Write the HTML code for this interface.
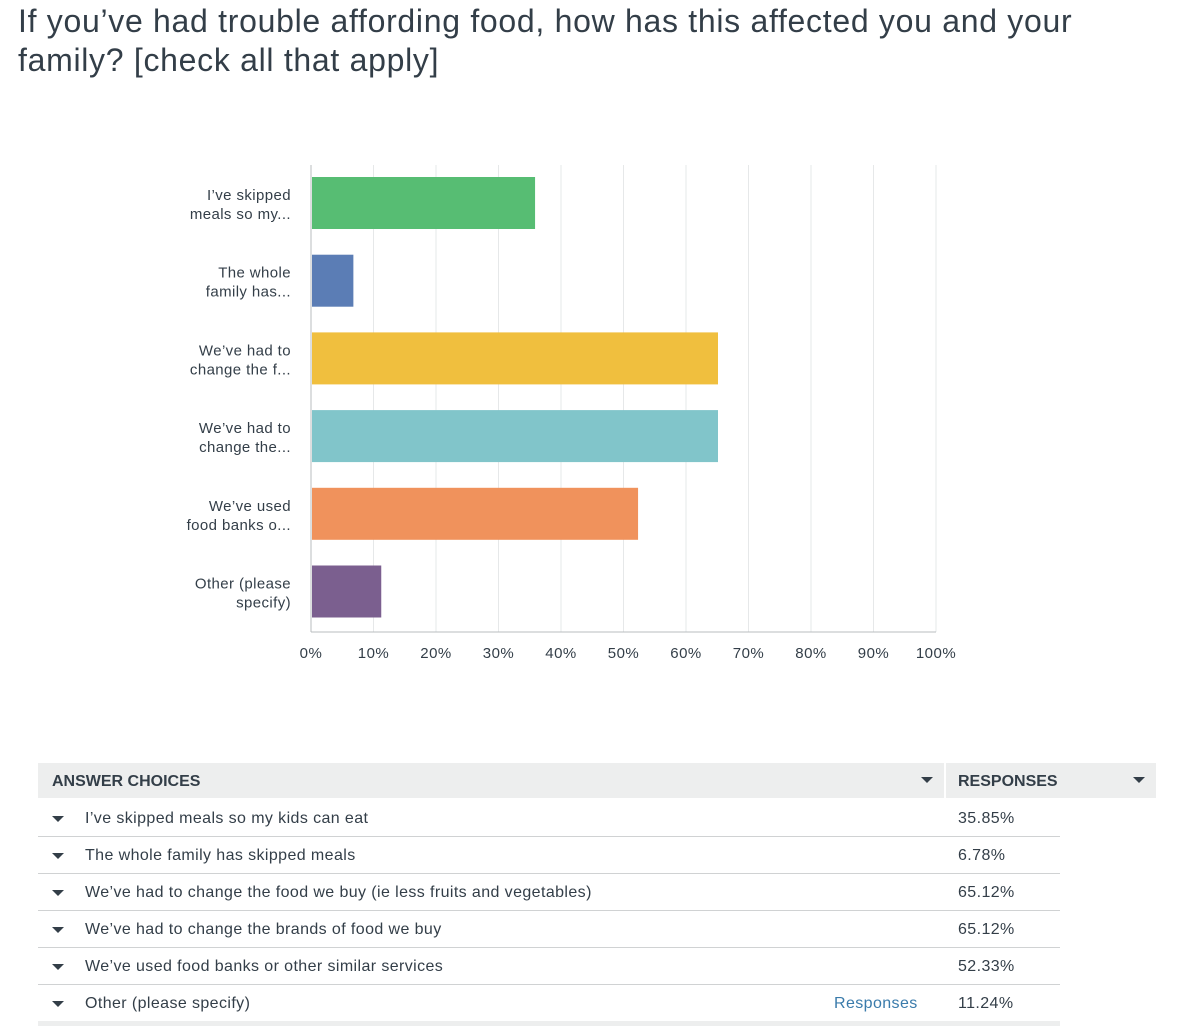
<!DOCTYPE html>
<html><head><meta charset="utf-8">
<style>
body{margin:0;width:1190px;height:1026px;overflow:hidden;background:#fff;font-family:"Liberation Sans",sans-serif;color:#333e48;position:relative}
#title{position:absolute;left:18px;top:2px;font-size:32px;line-height:39px;color:#333e48;margin:0;font-weight:normal;width:1100px;letter-spacing:0.7px}
svg{position:absolute;left:0;top:0}
.hdr{position:absolute;top:763px;height:35px;background:#edeeee;font-weight:bold;font-size:16px;line-height:37px}
.row{position:absolute;left:38px;width:1022px;height:37px;border-bottom:1px solid #d0d2d3;font-size:16px;line-height:39px;letter-spacing:0.4px}
.tri{position:absolute;width:0;height:0;border-left:6px solid transparent;border-right:6px solid transparent;border-top:6px solid #333e48}
</style></head><body>
<h1 id="title">If you’ve had trouble affording food, how has this affected you and your family? [check all that apply]</h1>
<svg id="chart" width="1190" height="720"></svg>

<div class="hdr" style="left:38px;width:906px"><span style="margin-left:14px">ANSWER CHOICES</span><div class="tri" style="left:883px;top:14px"></div></div>
<div class="hdr" style="left:946px;width:210px"><span style="margin-left:12px">RESPONSES</span><div class="tri" style="left:187px;top:14px"></div></div>
<div id="rows"></div>
<div style="position:absolute;left:38px;top:1021px;width:1022px;height:5px;background:#edeeee"></div>

<script>
const categories=["I’ve skipped meals so my kids can eat","The whole family has skipped meals","We’ve had to change the food we buy (ie less fruits and vegetables)","We’ve had to change the brands of food we buy","We’ve used food banks or other similar services","Other (please specify)"];
const shortLabels=[["I’ve skipped","meals so my..."],["The whole","family has..."],["We’ve had to","change the f..."],["We’ve had to","change the..."],["We’ve used","food banks o..."],["Other (please","specify)"]];
const values=[35.85,6.78,65.12,65.12,52.33,11.24];
const ticks=[0,10,20,30,40,50,60,70,80,90,100];
const colors=["#57bd73","#5b7db5","#f0bf3e","#81c5ca","#f0925c","#7b5f8f"];
const NS="http://www.w3.org/2000/svg";
const svg=document.getElementById('chart');
const X0=311,X1=936,TOP=165,BOT=632,BAND=77.7,BH=52;
const x=v=>X0+(X1-X0)*v/100;
const yb=i=>177+i*BAND;
function mk(t,a){const e=document.createElementNS(NS,t);for(const k in a)e.setAttribute(k,a[k]);svg.appendChild(e);return e;}
ticks.forEach((t,i)=>{
  const g=mk('line',{x1:x(t),x2:x(t),y1:TOP,y2:BOT,stroke:t===0?'#b8bcbf':'#e6e8e9','stroke-width':1});
  
  
  const l=mk('text',{x:x(t),y:658,'text-anchor':'middle','font-size':15,fill:'#333e48','font-family':'Liberation Sans','letter-spacing':0.5});
  l.textContent=t+'%';
  
  
});
mk('line',{x1:X0,x2:X1,y1:BOT,y2:BOT,stroke:'#b8bcbf'});
values.forEach((v,i)=>{
  const r=mk('rect',{x:X0+1,y:yb(i),width:x(v)-X0-1,height:BH,fill:colors[i]});
  
  
  shortLabels[i].forEach((s,j)=>{
    const t=mk('text',{x:291,y:yb(i)+23+j*19,'text-anchor':'end','font-size':15,fill:'#333e48','font-family':'Liberation Sans','letter-spacing':0.4});
    t.textContent=s;
    
    
  });
});
const rows=document.getElementById('rows');
categories.forEach((c,i)=>{
  const d=document.createElement('div');
  d.className='row';d.style.top=(799+i*37)+'px';
  
  
  d.innerHTML='<div class="tri" style="left:14px;top:17px"></div><span style="position:absolute;left:47px">'+c+'</span>'+
   (i===5?'<span style="position:absolute;left:796px;color:#3a7bab">Responses</span>':'')+
   '<span style="position:absolute;left:920px">'+values[i].toFixed(2)+'%</span>';
  rows.appendChild(d);
});
</script>
</body></html>
